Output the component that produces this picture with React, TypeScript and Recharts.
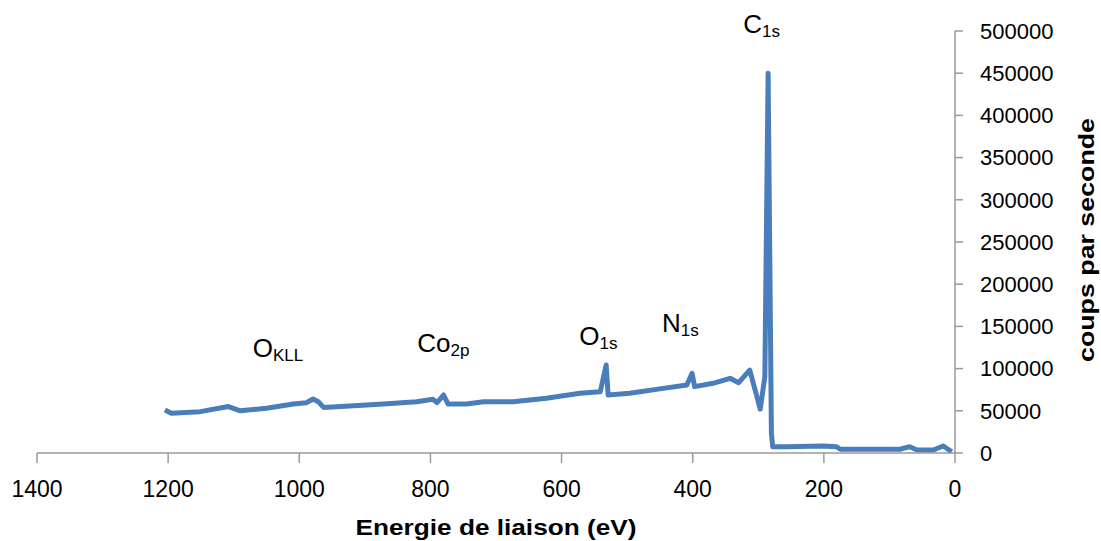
import { Label, Line, LineChart, ReferenceDot, XAxis, YAxis } from "recharts";

// XPS survey spectrum
const energies = [
  1205, 1195, 1151, 1108, 1090, 1050, 1009, 989, 979, 971, 963, 923, 872, 821, 796, 790, 780, 773, 745, 719,
  674, 623, 572, 541, 532, 529, 496, 445, 409, 401, 397, 369, 343, 330, 313, 297, 290, 285, 280, 278,
  257, 201, 181, 175, 84, 69, 58, 33, 18, 5,
];
const counts = [
  51000, 47000, 49000, 55000, 50000, 53000, 58000, 59600, 64000, 60800, 54000, 55700, 58000, 60800, 63600, 59600, 68700, 58000, 58000, 60800,
  60800, 64800, 70700, 72600, 104300, 68700, 70700, 76600, 80600, 94400, 78600, 82600, 88500, 83300, 98300, 52000, 90400, 449900, 23300, 7500,
  7500, 8300, 7500, 4400, 4400, 7500, 3600, 3600, 8300, 1500,
];

const xTicks = [0, 200, 400, 600, 800, 1000, 1200, 1400];
const yTicks = [0, 50000, 100000, 150000, 200000, 250000, 300000, 350000, 400000, 450000, 500000];

// peak labels: main text, subscript, anchor position (eV, counts)
const peakLabels = [
  { main: "O", sub: "KLL", x: 1071, y: 113700 },
  { main: "Co", sub: "2p", x: 820, y: 119700 },
  { main: "O", sub: "1s", x: 573, y: 128000 },
  { main: "N", sub: "1s", x: 447, y: 143400 },
  { main: "C", sub: "1s", x: 323, y: 497600 },
];

const data = energies.map((e, i) => ({ e, c: counts[i] }));

const AXIS = "#9a9a9a";
const LINE = "#4A7EBB";
const FONT = "'Liberation Sans', Arial, sans-serif";

const tickStyle = { fill: "#000", fontSize: 23, fontFamily: FONT };

export default function App() {
  return (
    <div style={{ position: "absolute", left: 0, top: 0, background: "#fff" }}>
      <LineChart width={1101} height={541} data={data} margin={{ top: 31, right: 0, left: 37, bottom: 0 }}>
        <XAxis
          type="number"
          dataKey="e"
          domain={[0, 1400]}
          ticks={xTicks}
          reversed
          height={88}
          stroke={AXIS}
          strokeWidth={1.5}
          tickSize={10}
          tickMargin={18}
          tick={tickStyle}
          interval={0}
        >
          <Label
            content={({ viewBox }: any) => (
              <text
                x={viewBox.x + viewBox.width / 2}
                y={viewBox.y + 82}
                textAnchor="middle"
                fontFamily={FONT}
                fontWeight="bold"
                fontSize={22}
                textLength={281}
                lengthAdjust="spacingAndGlyphs"
              >
                Energie de liaison (eV)
              </text>
            )}
          />
        </XAxis>
        <YAxis
          orientation="right"
          domain={[0, 500000]}
          ticks={yTicks}
          width={146}
          stroke={AXIS}
          strokeWidth={1.5}
          tickSize={8}
          tickMargin={17}
          tick={{ ...tickStyle, fontSize: 22 }}
          interval={0}
        >
          <Label
            content={({ viewBox }: any) => {
              const cx = viewBox.x + 131;
              const cy = viewBox.y + viewBox.height / 2 - 2;
              return (
                <text
                  x={cx}
                  y={cy}
                  transform={`rotate(-90, ${cx}, ${cy})`}
                  textAnchor="middle"
                  dominantBaseline="central"
                  fontFamily={FONT}
                  fontWeight="bold"
                  fontSize={22}
                  textLength={244}
                  lengthAdjust="spacingAndGlyphs"
                >
                  coups par seconde
                </text>
              );
            }}
          />
        </YAxis>
        <Line
          type="linear"
          dataKey="c"
          stroke={LINE}
          strokeWidth={5}
          dot={false}
          strokeLinejoin="round"
          isAnimationActive={false}
        />
        {peakLabels.map((p) => (
          <ReferenceDot
            key={p.main + p.sub + p.x}
            x={p.x}
            y={p.y}
            r={0}
            ifOverflow="visible"
            shape={(s: any) => (
              <text x={s.cx} y={s.cy} fontFamily={FONT} fontSize={26} fill="#000">
                {p.main}
                <tspan fontSize={17} dy={4}>
                  {p.sub}
                </tspan>
              </text>
            )}
          />
        ))}
      </LineChart>
    </div>
  );
}
